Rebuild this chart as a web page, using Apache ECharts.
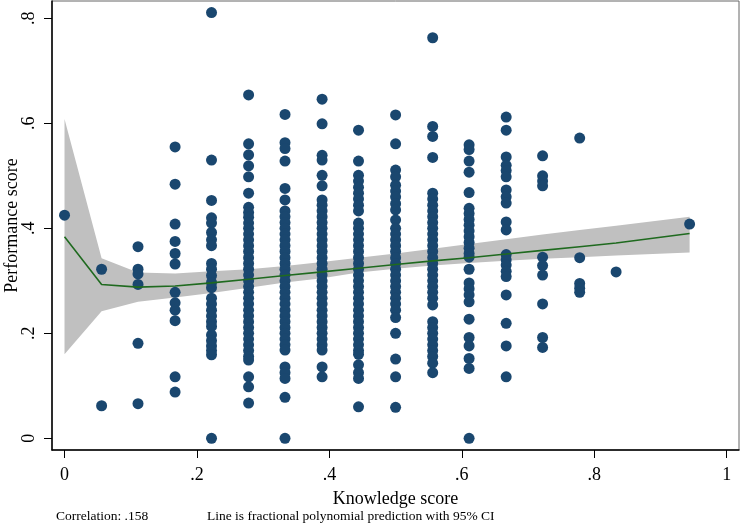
<!DOCTYPE html>
<html>
<head>
<meta charset="utf-8">
<script src="https://cdn.jsdelivr.net/npm/echarts@6/dist/echarts.min.js"></script>
<style>
html,body{margin:0;padding:0;background:#fff;}
#chart{width:740px;height:528px;}
</style>
</head>
<body>
<div id="chart"></div>
<script>
// Knowledge score levels (x)
const knowledgeLevels = [0, 0.056, 0.111, 0.167, 0.222, 0.278, 0.333, 0.389, 0.444, 0.5, 0.556, 0.611, 0.667, 0.722, 0.778, 0.833, 0.944];

// Performance scores observed at each knowledge level (same order)
const perfK00 = [0.425];
const perfK01 = [0.322, 0.062];
const perfK02 = [0.365, 0.322, 0.313, 0.293, 0.181, 0.066];
const perfK03 = [0.555, 0.484, 0.408, 0.375, 0.352, 0.332, 0.278, 0.258, 0.244, 0.224, 0.117, 0.088];
const perfK04 = [0.811, 0.530, 0.453, 0.420, 0.410, 0.392, 0.378, 0.367, 0.333, 0.322, 0.310, 0.297, 0.287, 0.267, 0.256, 0.244, 0.233, 0.222, 0.213, 0.197, 0.186, 0.176, 0.167, 0.159, 0.0];
const perfK05 = [0.654, 0.561, 0.540, 0.519, 0.498, 0.467, 0.440, 0.430, 0.421, 0.410, 0.400, 0.389, 0.378, 0.367, 0.356, 0.344, 0.333, 0.322, 0.311, 0.300, 0.289, 0.278, 0.267, 0.256, 0.244, 0.233, 0.222, 0.211, 0.200, 0.189, 0.178, 0.167, 0.156, 0.149, 0.117, 0.098, 0.067];
const perfK06 = [0.617, 0.563, 0.552, 0.528, 0.476, 0.454, 0.433, 0.422, 0.411, 0.400, 0.389, 0.378, 0.367, 0.356, 0.344, 0.333, 0.322, 0.311, 0.300, 0.289, 0.278, 0.267, 0.256, 0.244, 0.233, 0.222, 0.211, 0.200, 0.189, 0.178, 0.168, 0.136, 0.125, 0.114, 0.078, 0.0];
const perfK07 = [0.646, 0.599, 0.539, 0.530, 0.501, 0.481, 0.454, 0.444, 0.433, 0.422, 0.411, 0.400, 0.389, 0.378, 0.367, 0.356, 0.344, 0.333, 0.322, 0.311, 0.300, 0.289, 0.278, 0.267, 0.256, 0.244, 0.233, 0.222, 0.211, 0.200, 0.189, 0.178, 0.168, 0.136, 0.117];
const perfK08 = [0.587, 0.528, 0.501, 0.490, 0.478, 0.467, 0.456, 0.444, 0.433, 0.410, 0.400, 0.389, 0.378, 0.367, 0.356, 0.344, 0.333, 0.322, 0.311, 0.300, 0.289, 0.278, 0.267, 0.256, 0.244, 0.233, 0.222, 0.211, 0.200, 0.189, 0.178, 0.167, 0.160, 0.140, 0.125, 0.114, 0.060];
const perfK09 = [0.616, 0.561, 0.511, 0.498, 0.482, 0.471, 0.460, 0.447, 0.435, 0.416, 0.400, 0.389, 0.378, 0.367, 0.356, 0.344, 0.333, 0.322, 0.311, 0.300, 0.289, 0.278, 0.267, 0.256, 0.244, 0.230, 0.200, 0.151, 0.117, 0.059];
const perfK10 = [0.763, 0.594, 0.575, 0.535, 0.467, 0.456, 0.444, 0.433, 0.422, 0.411, 0.400, 0.389, 0.378, 0.367, 0.356, 0.344, 0.333, 0.322, 0.311, 0.300, 0.289, 0.278, 0.267, 0.254, 0.222, 0.211, 0.200, 0.189, 0.178, 0.167, 0.156, 0.143, 0.125];
const perfK11 = [0.559, 0.550, 0.528, 0.507, 0.468, 0.438, 0.428, 0.417, 0.406, 0.395, 0.384, 0.373, 0.362, 0.352, 0.345, 0.322, 0.296, 0.285, 0.273, 0.260, 0.227, 0.192, 0.176, 0.152, 0.133, 0.0];
const perfK12 = [0.612, 0.587, 0.536, 0.520, 0.510, 0.498, 0.473, 0.460, 0.448, 0.412, 0.397, 0.350, 0.340, 0.330, 0.318, 0.308, 0.273, 0.219, 0.176, 0.117];
const perfK13 = [0.538, 0.500, 0.490, 0.481, 0.345, 0.329, 0.311, 0.256, 0.192, 0.173];
const perfK14 = [0.572, 0.344, 0.295, 0.286, 0.278];
const perfK15 = [0.317];
const perfK17 = [0.408];
const performanceByLevel = [perfK00, perfK01, perfK02, perfK03, perfK04, perfK05, perfK06, perfK07, perfK08, perfK09, perfK10, perfK11, perfK12, perfK13, perfK14, perfK15, perfK17];

// Fractional polynomial prediction and 95% CI at each knowledge level
const fitY    = [0.384, 0.293, 0.288, 0.290, 0.296, 0.303, 0.310, 0.317, 0.324, 0.331, 0.338, 0.344, 0.351, 0.358, 0.365, 0.372, 0.390];
const ciLower = [0.160, 0.242, 0.260, 0.268, 0.277, 0.287, 0.297, 0.305, 0.316, 0.323, 0.329, 0.334, 0.338, 0.342, 0.345, 0.348, 0.354];
const ciUpper = [0.608, 0.343, 0.316, 0.314, 0.318, 0.322, 0.328, 0.336, 0.344, 0.352, 0.361, 0.370, 0.379, 0.388, 0.397, 0.405, 0.422];

// Tick labels
const xTicks = [0, 0.2, 0.4, 0.6, 0.8, 1];
const yTicks = [0, 0.2, 0.4, 0.6, 0.8];
const xTitle = 'Knowledge score';
const yTitle = 'Performance score';
const note1 = 'Correlation: .158';
const note2 = 'Line is fractional polynomial prediction with 95% CI';

const FONT = '"Liberation Serif", "DejaVu Serif", serif';
const fmt = v => { const s = String(Math.round(v * 10) / 10); return s.replace(/^0\./, '.'); };

const scatterData = [];
knowledgeLevels.forEach((x, i) => {
  performanceByLevel[i].forEach(y => scatterData.push([x, y]));
});
const bandData = knowledgeLevels.map((x, i) => [x, ciLower[i], ciUpper[i]]);
const fitData = knowledgeLevels.map((x, i) => [x, fitY[i]]);

const chart = echarts.init(document.getElementById('chart'), null, {renderer: 'canvas'});
chart.setOption({
  animation: false,
  backgroundColor: '#fff',
  grid: {left: 52, right: 1, top: 1, bottom: 78, show: true, borderColor: '#666', borderWidth: 1, backgroundColor: '#fff', containLabel: false, outerBoundsMode: 'none'},
  xAxis: {
    type: 'value', min: -0.0189, max: 1.0186,
    name: xTitle, nameLocation: 'middle', nameGap: 40, nameMoveOverlap: false,
    nameTextStyle: {fontFamily: FONT, fontSize: 18, color: '#000'},
    axisLine: {show: true, onZero: false, lineStyle: {color: '#000', width: 1.5}},
    axisTick: {show: true, length: 8, customValues: xTicks, lineStyle: {color: '#000', width: 1}},
    axisLabel: {customValues: xTicks, formatter: fmt, fontFamily: FONT, fontSize: 18, color: '#000', margin: 16},
    splitLine: {show: false}
  },
  yAxis: {
    type: 'value', min: -0.0223, max: 0.833,
    name: yTitle, nameLocation: 'middle', nameGap: 31, nameRotate: 90, nameMoveOverlap: false,
    nameTextStyle: {fontFamily: FONT, fontSize: 18, color: '#000'},
    axisLine: {show: true, onZero: false, lineStyle: {color: '#000', width: 1.5}},
    axisTick: {show: true, length: 8, customValues: yTicks, lineStyle: {color: '#000', width: 1}},
    axisLabel: {customValues: yTicks, formatter: fmt, rotate: 90, fontFamily: FONT, fontSize: 18, color: '#000', margin: 14},
    splitLine: {show: false}
  },
  graphic: [
    {type: 'text', left: 56, top: 509, style: {text: note1, fontFamily: FONT, fontSize: 13.5, fill: '#000'}},
    {type: 'text', left: 207, top: 509, style: {text: note2, fontFamily: FONT, fontSize: 13.5, fill: '#000'}}
  ],
  series: [
    {
      type: 'custom', z: 1, clip: true,
      data: bandData,
      encode: {x: 0, y: [1, 2]},
      renderItem: function (params, api) {
        if (params.dataIndex !== 0) return null;
        const pts = [];
        for (let i = 0; i < bandData.length; i++) pts.push(api.coord([bandData[i][0], bandData[i][2]]));
        for (let i = bandData.length - 1; i >= 0; i--) pts.push(api.coord([bandData[i][0], bandData[i][1]]));
        return {type: 'polygon', shape: {points: pts}, style: {fill: '#c0c0c0'}};
      }
    },
    {
      type: 'scatter', z: 2, symbol: 'circle', symbolSize: 11,
      itemStyle: {color: '#1a476f', opacity: 1},
      data: scatterData
    },
    {
      type: 'line', z: 3, showSymbol: false, symbol: 'none',
      lineStyle: {color: '#1f6a1f', width: 1.6},
      data: fitData
    }
  ]
});
</script>
</body>
</html>
